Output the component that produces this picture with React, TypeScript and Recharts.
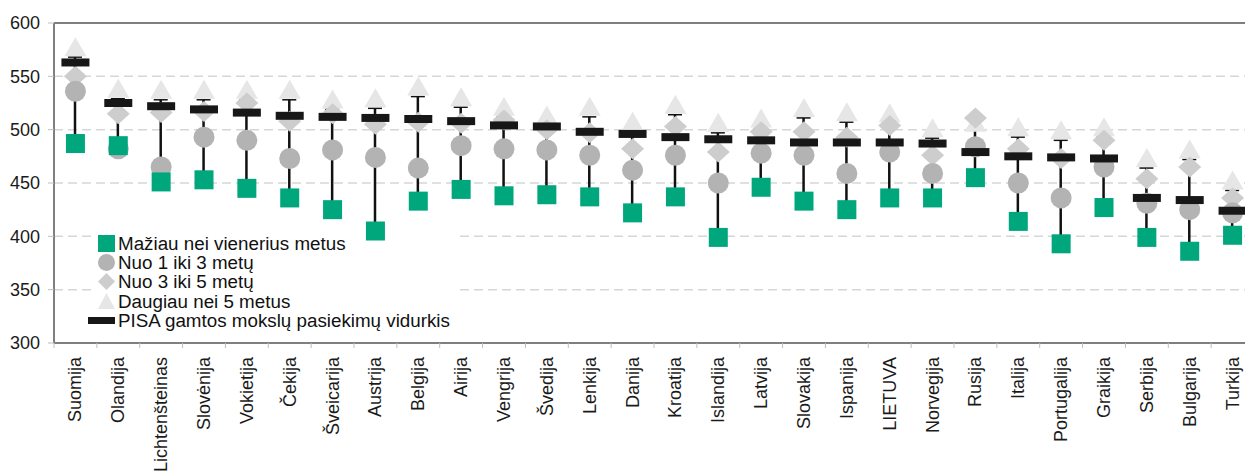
import React from 'react';
import { ComposedChart, Bar, Line, XAxis, YAxis, CartesianGrid, ReferenceLine, Legend } from 'recharts';

const countries = [
  'Suomija', 'Olandija', 'Lichtenšteinas', 'Slovėnija', 'Vokietija', 'Čekija', 'Šveicarija',
  'Austrija', 'Belgija', 'Airija', 'Vengrija', 'Švedija', 'Lenkija', 'Danija', 'Kroatija',
  'Islandija', 'Latvija', 'Slovakija', 'Ispanija', 'LIETUVA', 'Norvegija', 'Rusija', 'Italija',
  'Portugalija', 'Graikija', 'Serbija', 'Bulgarija', 'Turkija',
];

// mažiau nei vieneri metai
const lessThanOne = [487, 485, 451, 453, 445, 436, 425, 405, 433, 444, 438, 439, 437, 422, 437, 399, 446, 433, 425, 436, 436, 455, 414, 393, 427, 399, 386, 401];
// nuo 1 iki 3 metų
const oneToThree = [536, 482, 465, 493, 490, 473, 481, 474, 464, 485, 482, 481, 476, 462, 476, 450, 478, 476, 459, 479, 459, 484, 450, 436, 465, 431, 425, 422];
// nuo 3 iki 5 metų
const threeToFive = [550, 515, 516, 517, 525, 508, 515, 505, 507, 506, 509, 500, 497, 482, 503, 479, 498, 498, 493, 504, 476, 511, 482, 473, 490, 454, 465, 436];
// daugiau nei 5 metai
const moreThanFive = [568, 529, 528, 528, 528, 528, 519, 520, 531, 521, 512, 504, 512, 498, 514, 497, 501, 511, 507, 506, 492, 497, 493, 490, 493, 464, 472, 443];
// PISA vidurkis
const pisaMean = [563, 525, 522, 519, 516, 513, 512, 511, 510, 508, 504, 503, 498, 496, 493, 491, 490, 488, 488, 488, 487, 479, 475, 474, 473, 436, 434, 424];

const yTicks = [300, 350, 400, 450, 500, 550, 600];

const FONT = '"Liberation Sans", Arial, sans-serif';
const GREEN = '#00a77d';
const CIRCLE = '#b3b3b3';
const DIAMOND = '#cdcdcd';
const TRIANGLE = '#e6e6e6';
const DASH = '#171717';
const AXIS = '#7f7f7f';

const CHART_W = 1256;
const CHART_H = 475;
const Y_W = 54;
const M_RIGHT = 2;
const BAND = (CHART_W - Y_W - M_RIGHT) / countries.length;

const data = countries.map((country, i) => {
  const all = [lessThanOne[i], oneToThree[i], threeToFive[i], moreThanFive[i], pisaMean[i]];
  return {
    country,
    sq: lessThanOne[i],
    circ: oneToThree[i],
    dia: threeToFive[i],
    tri: moreThanFive[i],
    mean: pisaMean[i],
    range: [Math.min(...all), Math.max(...all)],
  };
});

const RangeLine = (props: any) => {
  const { x, y, width, height } = props;
  const cx = x + width / 2;
  const top = Math.min(y, y + height);
  const bottom = Math.max(y, y + height);
  return (
    <g>
      <line x1={cx} x2={cx} y1={top} y2={bottom} stroke="#111" strokeWidth={2.5} />
      <line x1={cx - 7} x2={cx + 7} y1={top} y2={top} stroke="#111" strokeWidth={1.5} />
    </g>
  );
};

const squareDot = (p: any) => (
  <rect key={`sq-${p.index}`} x={p.cx - 9.5} y={p.cy - 9.5} width={19} height={19} fill={GREEN} />
);
const circleDot = (p: any) => <circle key={`ci-${p.index}`} cx={p.cx} cy={p.cy} r={10.5} fill={CIRCLE} />;
const diamondDot = (p: any) => (
  <polygon
    key={`di-${p.index}`}
    points={`${p.cx},${p.cy - 10.5} ${p.cx + 11.5},${p.cy} ${p.cx},${p.cy + 10.5} ${p.cx - 11.5},${p.cy}`}
    fill={DIAMOND}
  />
);
// triangle sits on top of its value, like in the original
const triangleDot = (p: any) => (
  <polygon
    key={`tr-${p.index}`}
    points={`${p.cx},${p.cy - 20} ${p.cx + 11},${p.cy - 1} ${p.cx - 11},${p.cy - 1}`}
    fill={TRIANGLE}
  />
);
const dashDot = (p: any) => (
  <rect key={`me-${p.index}`} x={p.cx - 14} y={p.cy - 4} width={28} height={8} fill={DASH} />
);

const CountryTick = (props: any) => {
  const { x, y, payload, index } = props;
  const ty = y + 14;
  const left = x - BAND / 2;
  return (
    <g>
      <line x1={left} x2={left} y1={y} y2={y + 5} stroke="#bdbdbd" strokeWidth={1} />
      {index === countries.length - 1 && (
        <line x1={x + BAND / 2} x2={x + BAND / 2} y1={y} y2={y + 5} stroke="#bdbdbd" strokeWidth={1} />
      )}
      <text
        x={x}
        y={ty}
        dy="0.33em"
        textAnchor="end"
        transform={`rotate(-90 ${x} ${ty})`}
        fontSize={18}
        fontFamily={FONT}
        fill="#1a1a1a"
      >
        {payload.value}
      </text>
    </g>
  );
};

const legendItems = [
  { label: 'Mažiau nei vienerius metus', icon: <rect x={10} y={1} width={17} height={17} fill={GREEN} /> },
  { label: 'Nuo 1 iki 3 metų', icon: <circle cx={18.5} cy={9.5} r={8.5} fill={CIRCLE} /> },
  { label: 'Nuo 3 iki 5 metų', icon: <polygon points="18.5,1 27,9.5 18.5,18 10,9.5" fill={DIAMOND} /> },
  { label: 'Daugiau nei 5 metus', icon: <polygon points="18.5,1 27,17 10,17" fill={TRIANGLE} /> },
  { label: 'PISA gamtos mokslų pasiekimų vidurkis', icon: <rect x={0} y={6} width={27} height={7} fill={DASH} /> },
];

const LegendBox = () => (
  <div style={{ fontFamily: FONT, fontSize: 18.8, color: '#111' }}>
    {legendItems.map((it) => (
      <div key={it.label} style={{ display: 'flex', height: 19.2, lineHeight: '19.2px', whiteSpace: 'nowrap' }}>
        <svg width={27} height={19.2} style={{ flex: 'none', overflow: 'visible' }}>
          {it.icon}
        </svg>
        <span style={{ marginLeft: 3 }}>{it.label}</span>
      </div>
    ))}
  </div>
);

export default function App() {
  return (
    <div
      style={{
        position: 'fixed',
        left: 0,
        top: 0,
        width: 1245,
        height: 475,
        overflow: 'hidden',
        background: '#fff',
        fontFamily: FONT,
      }}
    >
      <ComposedChart
        width={CHART_W}
        height={CHART_H}
        data={data}
        margin={{ top: 23, right: M_RIGHT, bottom: 0, left: 0 }}
      >
        <CartesianGrid vertical={false} stroke="#d6d6d6" strokeDasharray="9 5" strokeWidth={1.5} />
        {/* white box behind the legend, under the markers */}
        <rect x={91} y={233} width={365} height={98} fill="#fff" />
        <XAxis
          dataKey="country"
          interval={0}
          height={CHART_H - 23 - 320}
          tickSize={0}
          tickMargin={0}
          tickLine={false}
          axisLine={{ stroke: AXIS, strokeWidth: 2 }}
          tick={<CountryTick />}
        />
        <YAxis
          domain={[300, 600]}
          ticks={yTicks}
          width={Y_W}
          tickSize={6}
          tickMargin={8}
          tickLine={{ stroke: '#bdbdbd' }}
          axisLine={{ stroke: AXIS, strokeWidth: 2 }}
          tick={{ fontSize: 18, fill: '#1a1a1a', fontFamily: FONT }}
          allowDataOverflow
        />
        <ReferenceLine y={600} stroke={AXIS} strokeWidth={2} />
        <Bar dataKey="range" barSize={14} shape={RangeLine} isAnimationActive={false} />
        <Line dataKey="tri" stroke="none" dot={triangleDot} activeDot={false} isAnimationActive={false} />
        <Line dataKey="dia" stroke="none" dot={diamondDot} activeDot={false} isAnimationActive={false} />
        <Line dataKey="circ" stroke="none" dot={circleDot} activeDot={false} isAnimationActive={false} />
        <Line dataKey="sq" stroke="none" dot={squareDot} activeDot={false} isAnimationActive={false} />
        <Line dataKey="mean" stroke="none" dot={dashDot} activeDot={false} isAnimationActive={false} />
        <Legend
          layout="vertical"
          align="center"
          verticalAlign="middle"
          content={<LegendBox />}
          wrapperStyle={{ left: 88, top: 234, width: 'auto', height: 'auto' }}
        />
      </ComposedChart>
    </div>
  );
}
